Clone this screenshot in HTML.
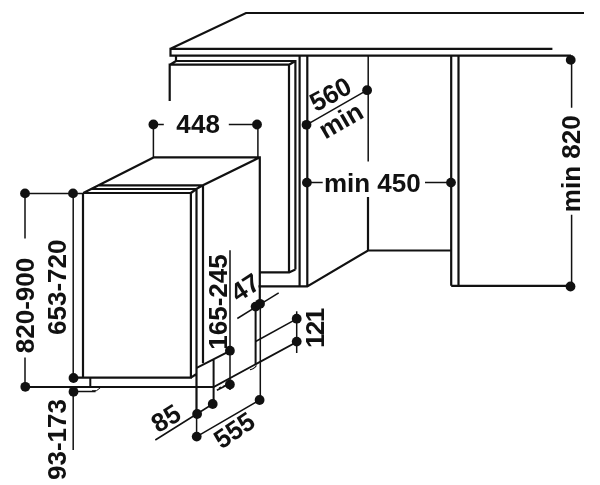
<!DOCTYPE html>
<html><head><meta charset="utf-8">
<style>
html,body{margin:0;padding:0;background:#fff;width:600px;height:485px;overflow:hidden}
svg{display:block;will-change:transform}
text{font-family:"Liberation Sans",sans-serif;font-weight:bold;font-size:26.0px;fill:#111;stroke:#111;stroke-width:0.0}
</style></head><body>
<svg width="600" height="485" viewBox="0 0 600 485">
<g fill="none" stroke="#111" stroke-width="2.2" stroke-linejoin="miter" stroke-linecap="butt">
<!-- countertop -->
<path d="M584,13 H246 L170.5,48.8 H552.4 M170.5,47.8 V55.7 H571"/>
<!-- left cabinet door -->
<path d="M176,55.7 V61 H295.4 V269.5 M169.7,101 V64.7 H289 V272.4 H259 M170,64.7 L176,61 M289,64.7 L295.4,61 M289,272.4 L295.4,269.5"/>
<!-- cabinet sides -->
<path d="M299.6,55.5 V286.4 M307.3,55.5 V286.4 M258.5,286.4 H307.3 L368,250.5 H451.2 M368,197 V250.5 M451.2,55.5 V285.8 M458.5,55.5 V285.8 M451.2,285.8 H571"/>
<!-- dishwasher -->
<path d="M154,157.3 H259.8 V304 M154,157.3 L83.3,193 H190.9 V377.6 H83 V193 M259.8,157.3 L203,185.3 V363.3 M91.2,189 H196.4 L203,185.3 M98.7,185.3 H203 M190.9,193 L196.4,189 M196.5,189 V414 M190.9,377.6 L196.4,374 M73.5,377.6 H83"/>
<path d="M255.6,305 V364" stroke-width="2"/>
<path d="M196.7,367.8 L230,350.9 M213.6,359.5 V404 M90.3,377.6 V387" stroke-width="2"/>
<path d="M25,387 H213.6 L296.7,342" stroke-width="1.9"/>
</g>
<!-- dimension lines -->
<g fill="none" stroke="#111" stroke-width="1.5">
<path d="M260.3,304 V400 M196.6,414 V436.6"/>
<path d="M153.4,124.5 H163.8 M228.8,124.5 H257 M153.4,124.5 V157.3 M257.9,124.5 V157.3"/>
<path d="M306.5,124.8 L367.1,90.2 M368.2,55.5 V161.4"/>
<path d="M306.9,182.6 H322.7 M425,182.6 H451"/>
<path d="M571.6,60 V107.8 M571.6,214.7 V286.5"/>
<path d="M25,193.4 H83 M25,193.4 V238.5 M25,357.5 V387 M73.2,193.4 V378 M73.2,391.8 V450"/>
<path d="M230,250.3 V390"/>
<path d="M237.3,318.5 L278.7,292.9"/>
<path d="M296.7,311.3 V353"/>
<path d="M255.6,341.5 L296.7,318.8"/>
<path d="M155.3,440 L212.7,404 M196.7,436.6 L259.6,400"/>
<path d="M73.5,391.5 H95.6"/>
</g>
<!-- feet -->
<g fill="none" stroke="#111" stroke-width="1">
<path d="M92,390.8 Q97,392 100.5,387.6"/>
<path d="M216.9,390.3 L227,385" stroke-width="1.6"/>
<path d="M219,388 L221,387 M223,386.6 L225,385.5" stroke-width="1.2"/>
<path d="M250,369.5 Q253,370 256.5,365.5" stroke-width="1.2"/>
</g>
<!-- dots -->
<g fill="#111">
<circle cx="570.7" cy="59.9" r="4.9"/><circle cx="570.5" cy="286.5" r="4.9"/>
<circle cx="153.4" cy="124.5" r="4.9"/><circle cx="257" cy="124.5" r="4.9"/>
<circle cx="306.5" cy="124.8" r="4.9"/><circle cx="367.1" cy="90.2" r="4.9"/>
<circle cx="306.9" cy="182.6" r="4.9"/><circle cx="451" cy="182.6" r="4.9"/>
<circle cx="25" cy="193.4" r="4.9"/><circle cx="73" cy="193.4" r="4.9"/>
<circle cx="25.3" cy="386.8" r="4.9"/><circle cx="73.5" cy="378" r="4.9"/><circle cx="73.5" cy="391.8" r="4.9"/>
<circle cx="229.9" cy="350.7" r="4.9"/><circle cx="229.9" cy="384.5" r="4.9"/>
<circle cx="255.6" cy="306.6" r="4.9"/><circle cx="260" cy="303.8" r="4.9"/>
<circle cx="296.7" cy="318.7" r="4.9"/><circle cx="296.7" cy="341.6" r="4.9"/>
<circle cx="197.1" cy="414" r="4.9"/><circle cx="212.7" cy="404" r="4.9"/><circle cx="196.7" cy="436.6" r="4.9"/>
<circle cx="259.6" cy="400" r="4.9"/>
</g>
<!-- texts -->
<text transform="translate(198.20,123.85)" x="0" y="9" text-anchor="middle" style="letter-spacing:0.2px">448</text>
<text transform="translate(372.30,183.15)" x="0" y="9" text-anchor="middle">min 450</text>
<text transform="translate(571.20,163.75) rotate(-90)" x="0" y="9" text-anchor="middle">min 820</text>
<text transform="translate(24.75,305.50) rotate(-90)" x="0" y="9" text-anchor="middle">820-900</text>
<text transform="translate(57.00,287.25) rotate(-90)" x="0" y="9" text-anchor="middle">653-720</text>
<text transform="translate(57.00,439.50) rotate(-90)" x="0" y="9" text-anchor="middle">93-173</text>
<text transform="translate(218.00,302.00) rotate(-90)" x="0" y="9" text-anchor="middle">165-245</text>
<text transform="translate(314.90,328.75) rotate(-90)" x="0" y="9" text-anchor="middle" style="letter-spacing:-1.6px">121</text>
<text transform="translate(330.20,94.25) rotate(-28)" x="0" y="9" text-anchor="middle" style="letter-spacing:-0.3px">560</text>
<text transform="translate(340.85,120.50) rotate(-30)" x="0" y="9" text-anchor="middle">min</text>
<text transform="translate(245.15,287.40) rotate(-33)" x="0" y="9" text-anchor="middle">47</text>
<text transform="translate(165.85,418.30) rotate(-32)" x="0" y="9" text-anchor="middle">85</text>
<text transform="translate(234.10,430.35) rotate(-34)" x="0" y="9" text-anchor="middle" style="letter-spacing:-0.3px">555</text>
</svg>
</body></html>
